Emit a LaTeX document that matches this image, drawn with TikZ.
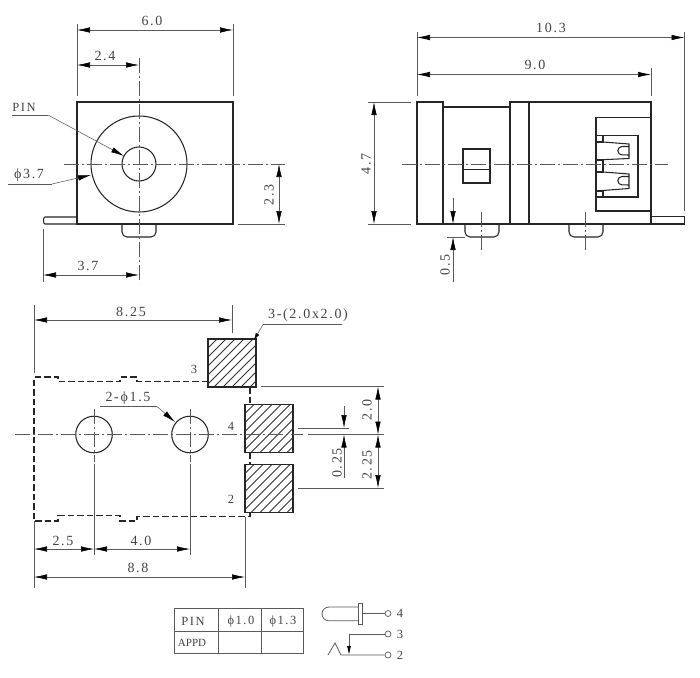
\documentclass[tikz,border=0pt]{standalone}
\usepackage{fontspec}
\setmainfont[LetterSpace=12]{Liberation Serif}
\usetikzlibrary{arrows.meta}
\definecolor{inkgray}{HTML}{444444}
\definecolor{dimgray}{HTML}{5A5A5A}
\tikzset{
  outline/.style={draw=black!85,line width=1.05pt},
  pinshape/.style={draw=black!85,line width=1.05pt,rounded corners=5pt},
  dimline/.style={draw=dimgray,line width=.55pt,{Latex[length=13pt,width=5.5pt,black]}-{Latex[length=13pt,width=5.5pt,black]}},
  dimtip/.style={draw=dimgray,line width=.55pt,-{Latex[length=13pt,width=5.5pt,black]}},
  extline/.style={draw=dimgray,line width=.55pt},
  symline/.style={draw=dimgray,line width=.8pt},
  terminal/.style={circle,draw=dimgray,line width=.7pt,minimum size=6pt,inner sep=0pt},
  centerline/.style={draw=dimgray,line width=.55pt,dash pattern=on 15pt off 3pt on 2pt off 3pt},
  dashedge/.style={draw=black!85,line width=1.05pt,dash pattern=on 6.5pt off 3pt},
  hatchline/.style={draw=black!80,line width=.75pt},
  label/.style={text=inkgray,font=\fontsize{14}{16}\selectfont,inner sep=0pt},
  small/.style={text=inkgray,font=\fontsize{12.5}{14}\selectfont,inner sep=0pt}
}
\newcommand{\hatchpad}[2]{%
  \begin{scope}
    \clip (#1,#2) rectangle +(48,48);
    \foreach \d in {9,18,...,90} \draw[hatchline] (#1+\d,#2) -- (#1,#2+\d);
  \end{scope}
  \draw[outline] (#1,#2) rectangle +(48,48);
}
\begin{document}
\begin{tikzpicture}[x=1pt,y=-1pt]
    \useasboundingbox (0,0) rectangle (700,677);
    \fill[white] (0,0) rectangle (700,677);

    % front view
    \draw[outline] (77,102) rectangle (233,224);
    \draw[outline] (139,164) circle (48);
    \draw[outline] (139,164) circle (17);
    \draw[outline] (77,217) -- (45,217) arc (-90:-270:1.5 and 3.5) -- (77,224);
    \draw[pinshape] (122,224) -- (122,237) -- (156,237) -- (156,224);
    \draw[centerline] (139,58) -- (139,283);
    \draw[centerline] (64,164) -- (285,164);
    \draw[extline] (77,24) -- (77,96);
    \draw[extline] (233,24) -- (233,96);
    \draw[extline] (43,229) -- (43,282);
    \draw[extline] (238,224) -- (285,224);
    \draw[dimline] (77,30) -- (233,30);
    \draw[dimline] (77,65) -- (139,65);
    \draw[dimline] (43,275) -- (139,275);
    \draw[dimline] (279,164) -- (279,224);
    \draw[extline] (12,115) -- (48,115);
    \draw[dimtip] (48,115) -- (124,156);
    \draw[extline] (8,184) -- (52,184);
    \draw[dimtip] (52,184) -- (91,175);
    \node[label] (lensix) at (152,21) {6.0};
    \node[label] (lenpin) at (105,56) {2.4};
    \node[label] (lentab) at (88,266) {3.7};
    \node[label,rotate=90] (lenheight) at (269,195) {2.3};
    \node[small] (pinname) at (24,107) {PIN};
    \node[label] (bodydia) at (29,175) {ϕ3.7};

    % side view
    \draw[outline] (417,102) rectangle (443,224);
    \draw[outline] (443,107) -- (510,107);
    \draw[outline] (443,224) -- (510,224);
    \draw[outline] (510,102) rectangle (529,224);
    \draw[outline] (529,102) rectangle (651,224);
    \draw[outline] (651,117.5) -- (596,117.5) -- (596,211) -- (651,211);
    \draw[outline] (596,135.5) -- (638,135.5) -- (638,197) -- (596,197);
    \draw[outline] (603,135.5) -- (603,142) -- (596,142);
    \draw[outline] (596,191) -- (603,191) -- (603,197);
    \draw[outline] (596,160) -- (603,160) -- (603,172) -- (596,172);
    \draw[outline] (603,142) -- (629,144) -- (629,158.5) -- (596,160);
    \draw[outline] (603,172) -- (629,174) -- (629,188.5) -- (596,191);
    \draw[outline] (629,146.5) -- (622,146.5) arc (-90:-270:4.2) -- (629,155);
    \draw[outline] (629,176.5) -- (622,176.5) arc (-90:-270:4.2) -- (629,185);
    \draw[outline] (463,149) rectangle (490,183);
    \draw[outline] (463,169.5) -- (490,169.5);
    \draw[outline] (651,216.5) -- (684.5,216.5) -- (684.5,224) -- (651,224);
    \draw[pinshape] (465,224) -- (465,237) -- (499,237) -- (499,224);
    \draw[pinshape] (569,224) -- (569,237) -- (603,237) -- (603,224);
    \draw[centerline] (402,164) -- (668,164);
    \draw[centerline] (481.5,212) -- (481.5,253);
    \draw[centerline] (585.5,212) -- (585.5,253);
    \draw[extline] (417,32) -- (417,96);
    \draw[extline] (684.5,32) -- (684.5,211);
    \draw[extline] (651,68) -- (651,96);
    \draw[extline] (368,102) -- (411,102);
    \draw[extline] (368,224) -- (411,224);
    \draw[extline] (447,237) -- (465,237);
    \draw[dimline] (417,37.5) -- (684.5,37.5);
    \draw[dimline] (417,74.5) -- (651,74.5);
    \draw[dimline] (374,102) -- (374,224);
    \draw[dimtip] (453,198) -- (453,224);
    \draw[dimtip] (453,282) -- (453,237);
    \node[label] (lentotal) at (551,28) {10.3};
    \node[label] (lenbody) at (535,65) {9.0};
    \node[label,rotate=90] (lenside) at (366,164) {4.7};
    \node[label,rotate=90] (lenpeg) at (445,265) {0.5};

    % footprint
    \draw[dashedge] (208,381.5) -- (137,381.5) -- (137,377) -- (120,377) -- (120,381.5) -- (58,381.5) -- (58,377) -- (34,377) -- (34,521) -- (58,521) -- (58,515.5) -- (120,515.5) -- (120,521) -- (137,521) -- (137,516.5) -- (250,516.5) -- (250,512.5);
    \draw[dashedge] (250,387) -- (250,404.5);
    \draw[dashedge] (250,452.5) -- (250,464.5);
    \hatchpad{208}{339}
    \hatchpad{245}{404.5}
    \hatchpad{245}{464.5}
    \draw[outline] (94,434.5) circle (18.3);
    \draw[outline] (190,434.5) circle (18.3);
    \draw[centerline] (15,434.5) -- (303,434.5);
    \draw[centerline] (94,409) -- (94,462);
    \draw[centerline] (190,409) -- (190,462);
    \draw[extline] (94,464) -- (94,555);
    \draw[extline] (190,464) -- (190,555);
    \draw[extline] (34,305) -- (34,373);
    \draw[extline] (34,521) -- (34,588);
    \draw[extline] (232,305) -- (232,333);
    \draw[extline] (245,517) -- (245,588);
    \draw[extline] (261,386.5) -- (384,386.5);
    \draw[extline] (308,434.5) -- (384,434.5);
    \draw[extline] (298,488) -- (384,488);
    \draw[extline] (298,428) -- (349,428);
    \draw[dimline] (34,320) -- (232,320);
    \draw[dimline] (378,386.5) -- (378,434.5);
    \draw[dimline] (378,434.5) -- (378,488);
    \draw[dimtip] (344,406) -- (344,428);
    \draw[dimtip] (344,478) -- (344,434.5);
    \draw[dimline] (34,549) -- (94,549);
    \draw[dimline] (94,549) -- (190,549);
    \draw[dimline] (34,577) -- (245,577);
    \draw[extline,-{Latex[length=7pt,width=4pt,black]}] (342,324.5) -- (263,324.5) -- (254,340);
    \draw[extline] (100,406.5) -- (157,406.5);
    \draw[dimtip] (157,406.5) -- (175,422);
    \node[label] (lenpad) at (131,312) {8.25};
    \node[label] (padsize) at (308,315) {3-(2.0x2.0)};
    \node[label] (holedia) at (128,398) {2-ϕ1.5};
    \node[small] (padthree) at (194,369) {3};
    \node[small] (padfour) at (231,426) {4};
    \node[small] (padtwo) at (231,499) {2};
    \node[label,rotate=90] (lenupper) at (367,410) {2.0};
    \node[label,rotate=90] (lenlower) at (367,465) {2.25};
    \node[label,rotate=90] (lengap) at (337,463) {0.25};
    \node[label] (lenfirst) at (63,541) {2.5};
    \node[label] (lensecond) at (141,541) {4.0};
    \node[label] (lenwhole) at (138,568) {8.8};

    % pin table
    \draw[symline] (174,608.5) rectangle (303,653);
    \draw[symline] (174,631) -- (303,631);
    \draw[symline] (218.5,608.5) -- (218.5,653);
    \draw[symline] (261,608.5) -- (261,653);
    \node[small] (headpin) at (193,621) {PIN};
    \node[small] (headone) at (241,621) {ϕ1.0};
    \node[small] (headtwo) at (283,621) {ϕ1.3};
    \node[small,font=\fontsize{11}{13}\selectfont\addfontfeature{LetterSpace=0}] (rowappd) at (192,643) {APPD};

    % schematic
    \draw[symline] (358,607) -- (329,607) arc (-90:-270:7 and 6.9) -- (358,620.8);
    \draw[symline] (358.5,603) rectangle (362,624);
    \node[terminal] (termfour) at (388,613.5) {};
    \node[terminal] (termthree) at (388,634) {};
    \node[terminal] (termtwo) at (388,655) {};
    \draw[symline] (362,613.5) -- (termfour);
    \draw[symline] (termthree) -- (349,634);
    \draw[symline,-{Latex[length=9pt,width=4pt,black]}] (349,634) -- (349,655);
    \draw[symline] (328,655) -- (335,643) -- (341,655) -- (termtwo);
    \node[small] (numfour) at (400,613) {4};
    \node[small] (numthree) at (400,634) {3};
    \node[small] (numtwo) at (400,655) {2};
  \end{tikzpicture}
\end{document}
